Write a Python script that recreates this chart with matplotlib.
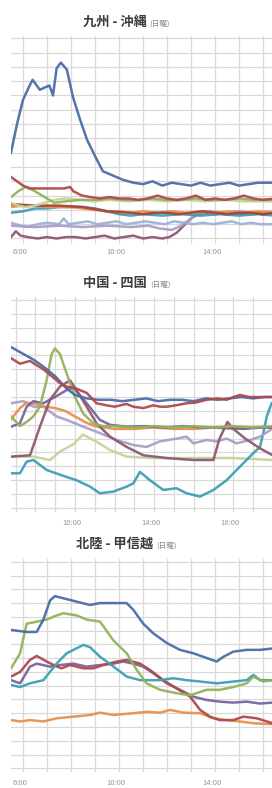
import matplotlib
matplotlib.use('Agg')
import matplotlib.pyplot as plt
import matplotlib.transforms as mtransforms
from matplotlib.ticker import MultipleLocator, FuncFormatter

plt.rcParams['font.family'] = ['Noto Sans CJK JP', 'DejaVu Sans']

W, H = 272, 788

# --- data: time in hours, value per series ---

# 九州 - 沖縄
ky_blue_t = [5.5, 5.75, 6.0, 6.25, 6.4, 6.7, 7.1, 7.25, 7.4, 7.58, 7.83, 8.08, 8.38, 8.67, 9.08, 9.33, 9.75,
             10.17, 10.6, 11.0, 11.4, 11.8, 12.2, 12.6, 13.0, 13.4, 13.8, 14.2, 14.6, 15.0, 15.4, 15.8, 16.2, 16.5]
ky_blue = [60, 80, 97, 106, 111, 104, 107, 100, 119, 123, 118, 99, 83, 69, 55, 47, 44,
           41, 39, 38, 40, 37, 39, 38, 37, 39, 37, 38, 39, 37, 38, 39, 39, 39]
ky_red_t = [5.5, 5.75, 6.0, 6.3, 6.7, 7.0, 7.4, 7.7, 7.96, 8.1, 8.46, 8.8, 9.2, 9.6, 10.0, 10.4, 10.8, 11.2,
            11.6, 12.0, 12.4, 12.8, 13.2, 13.6, 14.0, 14.4, 14.8, 15.2, 15.6, 16.0, 16.5]
ky_red = [43, 40, 37, 35, 35, 35, 35, 35, 36, 33, 30, 29, 28, 29, 28, 28, 27, 28,
          30, 28, 27, 28, 30, 27, 28, 27, 28, 30, 28, 27, 28]
ky_green_t = [5.5, 5.8, 6.1, 6.4, 6.8, 7.3, 7.8, 8.4, 9.0, 9.6, 10.2, 10.8, 11.4, 12.0, 12.6, 13.2, 13.8,
              14.4, 15.0, 15.6, 16.2, 16.5]
ky_green = [29, 33, 36, 34, 30, 25, 26, 27, 27, 28, 27, 27, 28, 27, 27, 28, 27, 27, 28, 27, 27, 27]
ky_lgreen_t = [5.5, 5.8, 6.1, 6.5, 6.9, 7.3, 7.8, 8.4, 9.0, 9.6, 10.4, 11.2, 12.0, 12.8, 13.6, 14.4, 15.2, 16.0, 16.5]
ky_lgreen = [25, 23, 22, 23, 25, 27, 28, 27, 26, 27, 26, 27, 26, 27, 26, 27, 26, 26, 26]
ky_orange_t = [5.5, 6.0, 6.5, 7.0, 7.5, 8.0, 8.5, 9.0, 9.5, 10.0, 10.5, 11.0, 11.6, 12.2, 12.8, 13.4, 14.0,
               14.6, 15.2, 15.8, 16.5]
ky_orange = [22, 23, 23, 22, 22, 22, 21, 20, 19, 19, 18, 19, 18, 19, 18, 19, 18, 19, 18, 19, 18]
ky_brown_t = [5.5, 6.5, 7.5, 8.5, 9.5, 10.5, 11.0, 11.5, 12.0, 12.5, 13.0, 13.5, 14.0, 14.5, 15.0, 15.5, 16.0, 16.5]
ky_brown = [24, 23, 23, 22, 19, 18, 17, 18, 18, 17, 18, 19, 18, 17, 18, 18, 17, 18]
ky_teal_t = [5.5, 6.0, 6.5, 7.0, 7.5, 8.0, 8.5, 9.0, 9.5, 10.0, 10.5, 11.0, 11.8, 12.6, 13.4, 14.2, 15.0, 15.8, 16.5]
ky_teal = [18, 19, 21, 21, 22, 22, 22, 21, 19, 17, 16, 17, 16, 17, 16, 17, 16, 17, 16]
ky_lblue_t = [5.5, 5.9, 6.2, 6.6, 7.0, 7.5, 7.7, 7.9, 8.3, 8.7, 9.1, 9.5, 9.9, 10.3, 10.7, 11.1, 11.5, 11.9,
              12.3, 12.7, 13.1, 13.5, 13.9, 14.3, 14.7, 15.1, 15.5, 15.9, 16.5]
ky_lblue = [11, 9, 8, 10, 11, 10, 14, 10, 11, 12, 10, 11, 12, 10, 11, 12, 11, 10,
            12, 11, 10, 11, 10, 11, 12, 10, 11, 10, 10]
ky_lav_t = [5.5, 6.5, 7.5, 8.5, 9.5, 10.5, 11.2, 11.7, 12.2, 12.6, 13.0, 13.3, 13.8, 14.4, 15.0, 15.6, 16.5]
ky_lav = [9, 8, 9, 8, 9, 8, 9, 7, 6, 9, 14, 18, 19, 18, 19, 18, 19]
ky_mauve_t = [5.5, 5.7, 5.9, 6.2, 6.6, 7.0, 7.4, 7.8, 8.2, 8.6, 9.0, 9.4, 9.8, 10.2, 10.6, 11.0, 11.4, 11.8,
              12.1, 12.4, 12.7, 13.0, 13.3, 13.6, 14.0, 14.5, 15.0, 15.5, 16.0, 16.5]
ky_mauve = [1, 5, 2, 1, 0, 1, 0, 1, 1, 0, 1, 2, 0, 1, 2, 0, 1, 0,
            1, 4, 9, 14, 17, 18, 17, 18, 17, 18, 17, 18]

# 中国 - 四国
cs_blue_t = [6.77, 7.9, 8.4, 9.0, 9.58, 10.0, 10.6, 11.2, 11.8, 12.4, 13.0, 13.6, 14.2, 14.8, 15.4, 16.0,
             16.6, 17.2, 17.8, 18.4, 19.0, 19.6, 20.0]
cs_blue = [116, 107, 102, 95, 86, 81.5, 79, 78, 78, 77, 78, 79, 77, 78, 78, 77, 79, 78, 79, 80, 79, 80, 80]
cs_red_t = [6.77, 7.22, 7.73, 8.06, 8.4, 8.74, 9.24, 9.58, 10.08, 10.59, 11.09, 11.6, 12.0, 12.6, 12.95, 13.45,
            13.96, 14.3, 14.63, 15.1, 15.64, 16.1, 16.65, 17.2, 17.66, 18.0, 18.33, 18.8, 19.3, 20.0]
cs_red = [108, 104, 106, 103, 100, 96, 90, 87.5, 86, 83, 75.5, 74, 73, 75, 73, 72,
          74, 73, 73, 74, 75.5, 76, 78, 79, 78, 80, 81.5, 80, 80, 80]
cs_green_t = [6.77, 7.22, 7.56, 7.9, 8.23, 8.57, 8.82, 8.99, 9.24, 9.58, 10.0, 10.42, 10.93, 11.43, 12.0,
              13.0, 14.0, 15.0, 16.0, 17.0, 18.0, 19.0, 20.0]
cs_green = [66, 59, 62, 66, 73, 92, 111, 115, 111, 97, 80, 68, 61, 59, 59, 58, 59, 58, 59, 58, 59, 58, 59]
cs_orange_t = [6.77, 7.22, 7.56, 8.0, 8.5, 9.0, 9.5, 10.0, 10.5, 11.0, 11.5, 12.0, 13.0, 14.0, 15.0, 16.0,
               17.0, 18.0, 19.0, 20.0]
cs_orange = [64, 72, 76, 75, 73, 72, 70, 66, 62, 59, 58, 57, 57, 58, 57, 57, 58, 57, 58, 58]
cs_purple_t = [6.77, 7.22, 7.56, 7.9, 8.4, 8.99, 9.58, 9.92, 10.08, 10.59, 11.26, 11.77, 12.6, 13.5, 14.5,
               15.5, 16.5, 17.5, 18.5, 19.5, 20.0]
cs_purple = [58.6, 61, 73, 77, 75.5, 80, 85, 87, 84, 75.5, 63.5, 60, 58.6, 59, 58, 59, 58, 58, 57, 58, 58]
cs_lav_t = [6.77, 7.4, 7.9, 8.4, 9.07, 9.58, 10.42, 11.26, 12.1, 12.95, 13.62, 14.29, 15.13, 15.64, 15.98,
            16.65, 17.15, 17.66, 18.16, 18.84, 19.34, 19.85, 20.0]
cs_lav = [75.5, 77, 73, 73, 66, 63.5, 58.6, 54, 49, 45.4, 44, 48, 50, 51.4, 46.6,
          49, 48, 50, 46.6, 49, 51.4, 56, 58]
cs_mauve_t = [6.77, 7.73, 8.23, 8.74, 9.24, 9.75, 10.08, 10.59, 11.09, 11.77, 12.61, 13.45, 14.63, 15.98,
              16.99, 17.3, 17.7, 18.0, 18.6, 19.34, 19.85, 20.0]
cs_mauve = [37, 38, 58.6, 78, 87.5, 92, 85, 73, 61, 51.4, 44, 38, 36, 34.6, 34.6, 50, 62, 57, 50, 43, 39, 38]
cs_lgreen_t = [6.77, 7.9, 8.74, 9.24, 9.92, 10.4, 11.09, 11.77, 12.61, 13.79, 16.31, 18.0, 20.0]
cs_lgreen = [37, 37, 34.6, 40.6, 46, 53, 47.8, 41.8, 37, 36, 36, 36, 34.6]
cs_teal_t = [6.77, 7.22, 7.56, 7.9, 8.57, 9.24, 10.08, 10.76, 11.26, 11.94, 12.61, 12.95, 13.28, 13.79, 14.46,
             15.13, 15.64, 16.31, 16.99, 17.66, 18.33, 19.0, 19.34, 19.51, 19.68, 19.93]
cs_teal = [25, 25, 33.4, 34.6, 27.4, 24, 20, 15.4, 10.6, 11.8, 15.4, 17.8, 26, 20, 13,
           14.2, 10.6, 8.2, 13, 20, 29.8, 39.4, 44, 53.8, 65.8, 75.5]

# 北陸 - 甲信越
hk_blue_t = [5.5, 6.15, 6.57, 6.85, 7.13, 7.33, 7.68, 8.24, 8.79, 9.21, 9.76, 10.32, 10.6, 11.01, 11.43, 11.99,
             12.54, 13.1, 13.51, 14.07, 14.35, 14.76, 15.32, 15.88, 16.4]
hk_blue = [100.5, 99, 99, 108, 122, 125, 123.5, 121, 118.6, 120, 120, 120, 115, 105, 98, 91,
           86, 83.5, 81, 77.5, 81, 84.7, 86, 86, 87]
hk_green_t = [5.5, 5.88, 6.15, 6.57, 6.99, 7.4, 7.68, 8.24, 8.65, 9.21, 9.76, 10.32, 10.74, 11.15, 11.71,
              12.4, 12.96, 13.65, 14.2, 14.76, 15.32, 15.6, 16.01, 16.4]
hk_green = [72.6, 83.5, 105, 106.5, 108, 111, 112.6, 111, 108, 106.5, 93, 83.5, 71.4, 61.7, 57,
            54.5, 53, 57, 57, 59, 61.7, 66.6, 63, 64]
hk_teal_t = [5.5, 5.88, 6.29, 6.85, 7.4, 7.82, 8.51, 8.79, 9.21, 9.76, 10.32, 10.88, 11.71, 12.26, 12.82,
             13.38, 14.07, 14.76, 15.32, 15.6, 15.88, 16.4]
hk_teal = [60.5, 59, 61.7, 64, 76, 83.5, 89.6, 88, 81, 74, 66.6, 64, 64, 65.4, 64, 63, 61.7, 63, 64, 67.8, 64, 64]
hk_red_t = [5.5, 5.88, 6.29, 6.57, 6.99, 7.4, 7.61, 7.96, 8.51, 8.93, 9.35, 9.9, 10.32, 10.88, 11.29, 11.85,
            12.4, 12.96, 13.38, 13.79, 14.2, 14.76, 15.18, 15.74, 16.4]
hk_red = [66.6, 70, 78.7, 81.6, 77.5, 74, 72.6, 75, 72.6, 72.6, 75, 77.5, 78.7, 76, 71.4, 64,
          58, 52, 42.4, 37.5, 35, 35, 37.5, 36.3, 32.7]
hk_purple_t = [5.5, 5.88, 6.29, 6.57, 7.13, 7.54, 8.1, 8.65, 9.21, 9.76, 10.18, 10.6, 11.01, 11.43, 11.99,
               12.54, 13.1, 13.65, 14.2, 14.76, 15.32, 15.88, 16.4]
hk_purple = [64, 61.7, 73.8, 76, 73.8, 75, 76, 73.8, 75, 76, 77.5, 76, 73.8, 69, 61.7,
             57, 52, 49.6, 48.4, 47.7, 48.4, 47, 47.7]
hk_orange_t = [5.5, 5.88, 6.29, 6.85, 7.4, 8.1, 8.79, 9.21, 9.76, 10.6, 11.15, 11.71, 12.13, 12.68, 13.38,
               13.93, 14.49, 15.04, 15.6, 16.4]
hk_orange = [35, 34, 35, 34, 36.3, 37.5, 38.7, 40.4, 38.7, 40, 41, 40.4, 42.4, 40.4, 40, 36.3, 35, 34, 32.7, 32]

titles = ['九州 - 沖縄', '中国 - 四国', '北陸 - 甲信越']
subtitle = '(日曜)'

C = {'blue': '#4a6ea8', 'red': '#b04a4e', 'green': '#93b35c', 'orange': '#e8914c', 'teal': '#3d9fb5',
     'lblue': '#9db3d6', 'lav': '#a99fc8', 'purple': '#7a63a0', 'mauve': '#8e5a70', 'lgreen': '#c4d49c',
     'brown': '#a4463c'}

panels = [
    dict(box=(11, 36, 272, 244), xlim=(5.5, 16.375), ylim=(-3.85, 141.6), ymax=140, pad=3.0,
         title=(147, 149, 26),
         series=[(ky_mauve_t, ky_mauve, 'mauve'), (ky_lblue_t, ky_lblue, 'lblue'), (ky_lav_t, ky_lav, 'lav'),
                 (ky_teal_t, ky_teal, 'teal'), (ky_orange_t, ky_orange, 'orange'),
                 (ky_brown_t, ky_brown, 'brown'), (ky_lgreen_t, ky_lgreen, 'lgreen'),
                 (ky_green_t, ky_green, 'green'), (ky_red_t, ky_red, 'red'), (ky_blue_t, ky_blue, 'blue')]),
    dict(box=(11, 297, 272, 512), xlim=(6.77, 19.95), ylim=(-2.9, 152.1), ymax=150, pad=5.0,
         title=(147, 150, 287),
         series=[(cs_lgreen_t, cs_lgreen, 'lgreen'), (cs_teal_t, cs_teal, 'teal'), (cs_lav_t, cs_lav, 'lav'),
                 (cs_orange_t, cs_orange, 'orange'), (cs_purple_t, cs_purple, 'purple'),
                 (cs_mauve_t, cs_mauve, 'mauve'), (cs_green_t, cs_green, 'green'),
                 (cs_blue_t, cs_blue, 'blue'), (cs_red_t, cs_red, 'red')]),
    dict(box=(11, 559, 272, 772), xlim=(5.5, 16.375), ylim=(-2.7, 152.0), ymax=150, pad=5.0,
         title=(153, 156, 548),
         series=[(hk_orange_t, hk_orange, 'orange'), (hk_purple_t, hk_purple, 'purple'),
                 (hk_red_t, hk_red, 'red'), (hk_teal_t, hk_teal, 'teal'), (hk_green_t, hk_green, 'green'),
                 (hk_blue_t, hk_blue, 'blue')]),
]


def hour_label(x, pos):
    h = int(round(x))
    return f'{h}:00' if h % 4 == 2 else ''


fig = plt.figure(figsize=(W / 100, H / 100), dpi=100)
# labels in the original sit a few pixels left of their grid line
shift = mtransforms.ScaledTranslation(-3 / 100, 0, fig.dpi_scale_trans)

for i, p in enumerate(panels):
    l, t, r, b = p['box']
    ax = fig.add_axes([l / W, 1 - b / H, (r - l) / W, (b - t) / H])
    for xs, ys, c in p['series']:
        ax.plot(xs, ys, color=C[c], lw=1.8, solid_joinstyle='round', alpha=0.95)
    ax.set_xlim(*p['xlim'])
    ax.set_ylim(*p['ylim'])
    ax.xaxis.set_major_locator(MultipleLocator(1))
    ax.xaxis.set_major_formatter(FuncFormatter(hour_label))
    ax.set_yticks(range(0, p['ymax'] + 1, 10))
    ax.set_yticklabels([])
    ax.grid(True, color='#d9d9d9', lw=0.9)
    ax.set_axisbelow(True)
    ax.tick_params(length=0, labelsize=5.5, labelcolor='#9a9a9a', pad=p['pad'])
    for lab in ax.get_xticklabels():
        lab.set_transform(lab.get_transform() + shift)
    for s in ax.spines.values():
        s.set_visible(False)

    xr, xs_, yb = p['title']
    fig.text(xr / W, 1 - yb / H, titles[i], ha='right', va='baseline', fontsize=9.5,
             fontweight='bold', color='#3c3c3c')
    fig.text(xs_ / W, 1 - yb / H, subtitle, ha='left', va='baseline', fontsize=5.5, color='#8a8a8a')

fig.savefig('out.png', dpi=100)
